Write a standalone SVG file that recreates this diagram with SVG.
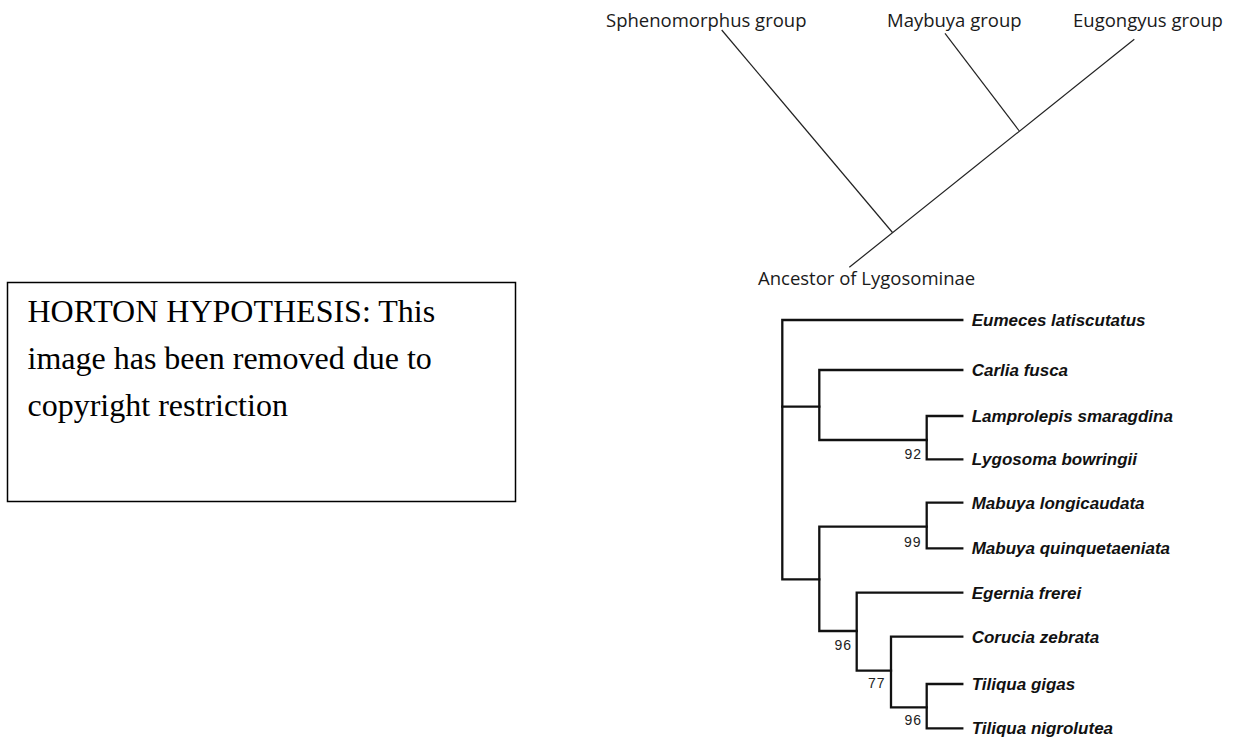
<svg xmlns="http://www.w3.org/2000/svg" width="1236" height="737" viewBox="0 0 1236 737">
<style>
.top{font-family:"Open Sans","Noto Sans",sans-serif;font-size:18.5px;fill:#1a1a1a}
.box{font-family:"Liberation Serif","Times New Roman",serif;font-size:32px;fill:#000}
.sp{font-family:"Liberation Sans",Arial,sans-serif;font-size:17px;font-weight:bold;font-style:italic;fill:#111}
.bs{font-family:"Liberation Sans",Arial,sans-serif;font-size:14px;fill:#222;text-anchor:end;letter-spacing:1px}
.thin{stroke:#222;stroke-width:1.2;fill:none}
.br{stroke:#111;stroke-width:2.3;fill:none;stroke-linecap:square}
</style>
<rect width="1236" height="737" fill="#fff"/>
<g id="note">
<rect x="7.5" y="282.5" width="508" height="219" fill="#fff" stroke="#000" stroke-width="1.5"/>
<text class="box" x="27.5" y="321.5">HORTON HYPOTHESIS: This</text>
<text class="box" x="27.5" y="369">image has been removed due to</text>
<text class="box" x="27.5" y="415.5">copyright restriction</text>
</g>
<g id="hypothesis-labels">
<text class="top" x="606" y="27">Sphenomorphus group</text>
<text class="top" x="887" y="27">Maybuya group</text>
<text class="top" x="1073" y="27">Eugongyus group</text>
<text class="top" x="758" y="285">Ancestor of Lygosominae</text>
</g>
<g id="hypothesis-tree">
<line class="thin" x1="849.3" y1="267.3" x2="1134.3" y2="39.3"/>
<line class="thin" x1="721.7" y1="30" x2="892.5" y2="232.5"/>
<line class="thin" x1="945" y1="33.3" x2="1019.3" y2="131"/>
</g>
<g id="connectors">
<path class="br" d="M962.3 320H782.3V579.3H819.3"/>
<path class="br" d="M782.3 406.7H819.3"/>
<path class="br" d="M962.3 370H819.3V440H926.7"/>
<path class="br" d="M962.3 416H926.7V459.3H962.3"/>
<path class="br" d="M962.3 502.7H926.7V548.3H962.3"/>
<path class="br" d="M926.7 526.7H819.3V631H856.7"/>
<path class="br" d="M962.3 592.7H856.7V670.7H891"/>
<path class="br" d="M962.3 636.7H891V707.3H926.7"/>
<path class="br" d="M962.3 684H926.7V728.3H962.3"/>
</g>
<g id="leaves">
<text class="sp" x="971.7" y="326">Eumeces latiscutatus</text>
<text class="sp" x="971.7" y="376">Carlia fusca</text>
<text class="sp" x="971.7" y="422">Lamprolepis smaragdina</text>
<text class="sp" x="971.7" y="465.3">Lygosoma bowringii</text>
<text class="sp" x="971.7" y="508.7">Mabuya longicaudata</text>
<text class="sp" x="971.7" y="554.3">Mabuya quinquetaeniata</text>
<text class="sp" x="971.7" y="598.7">Egernia frerei</text>
<text class="sp" x="971.7" y="642.7">Corucia zebrata</text>
<text class="sp" x="971.7" y="690">Tiliqua gigas</text>
<text class="sp" x="971.7" y="734.3">Tiliqua nigrolutea</text>
</g>
<g id="support">
<text class="bs" x="922" y="458.5">92</text>
<text class="bs" x="921.5" y="546.7">99</text>
<text class="bs" x="852" y="650">96</text>
<text class="bs" x="885.5" y="688.3">77</text>
<text class="bs" x="922" y="725">96</text>
</g>
</svg>
